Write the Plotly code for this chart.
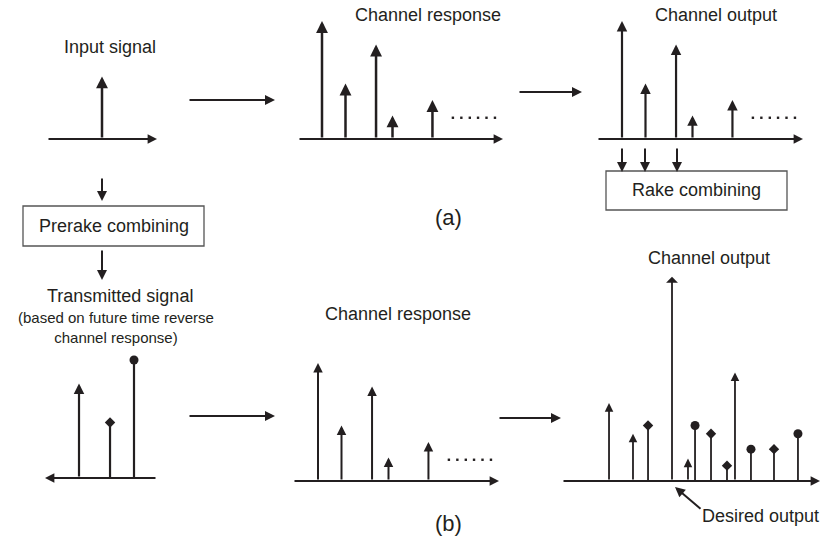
import plotly.graph_objects as go

W, H = 822, 540
INK = "#231f20"
FONT = "Liberation Sans, Arial, sans-serif"

# Scale of the stem plots: pixels per unit of delay and per unit of amplitude
PXD = 23.5
PXA = 118.0

# ---- data -----------------------------------------------------------------
# (a) input impulse
input_delay = [0.0]
input_amp = [0.53]
input_kind = ["arrow"]

# multipath channel response (same taps for the (a) output and both (b) plots)
resp_delay = [0.0, 1.0, 2.3, 3.0, 4.7]
resp_amp = [1.0, 0.47, 0.8, 0.2, 0.33]
resp_kind = ["arrow", "arrow", "arrow", "arrow", "arrow"]

# trailing "......" after the last tap
tail_delay = [5.57, 5.93, 6.29, 6.64, 7.0, 7.36]
tail_amp = [0.18, 0.18, 0.18, 0.18, 0.18, 0.18]

# (b) pre-rake transmitted signal
tx_delay = [-2.34, -1.02, 0.0]
tx_amp = [0.8, 0.47, 1.0]
tx_kind = ["arrow", "diamond", "circle"]

# (b) channel output after pre-rake combining
out_delay = [-2.68, -1.66, -1.02, 0.0, 0.68, 0.98, 1.66, 2.34, 2.68, 3.36, 4.34, 5.36]
out_amp = [0.66, 0.40, 0.47, 1.73, 0.19, 0.47, 0.40, 0.13, 0.92, 0.27, 0.27, 0.40]
out_kind = ["arrow", "arrow", "diamond", "arrow", "arrow", "circle",
            "diamond", "diamond", "arrow", "circle", "diamond", "circle"]

# ---- panel geometry (pixels): axis extent, baseline, zero-delay position ----
panels = [
    dict(left=47, right=157, base=139, origin=102, top=10),    # input
    dict(left=298, right=503, base=139, origin=322, top=10),   # (a) channel response
    dict(left=597, right=803, base=139, origin=622, top=10),   # (a) channel output
    dict(left=45, right=157, base=478, origin=134, top=250),   # (b) transmitted
    dict(left=293, right=499, base=481, origin=318, top=250),  # (b) channel response
    dict(left=562, right=820, base=481, origin=672, top=250),  # (b) channel output
]

fig = go.Figure()
layout = {}
annotations = []
shapes = []


def names(i):
    return ("x" if i == 1 else f"x{i}", "y" if i == 1 else f"y{i}")


for i, p in enumerate(panels, start=1):
    xn, yn = names(i)
    layout["xaxis" if i == 1 else f"xaxis{i}"] = dict(
        domain=[p["left"] / W, p["right"] / W],
        range=[(p["left"] - p["origin"]) / PXD, (p["right"] - p["origin"]) / PXD],
        visible=False, anchor=yn, fixedrange=True)
    layout["yaxis" if i == 1 else f"yaxis{i}"] = dict(
        domain=[1 - p["base"] / H, 1 - p["top"] / H],
        range=[0, (p["base"] - p["top"]) / PXA],
        visible=False, anchor=xn, fixedrange=True)

# full-page canvas in pixel units for labels, boxes and connecting arrows
CX, CY = "x7", "y7"
layout["xaxis7"] = dict(domain=[0, 1], range=[0, W], visible=False, anchor=CY, fixedrange=True)
layout["yaxis7"] = dict(domain=[0, 1], range=[H, 0], visible=False, anchor=CX, fixedrange=True)


def arrow(x0, y0, x1, y1, xr, yr, width=2.0, head=2, size=0.8):
    annotations.append(dict(
        x=x1, y=y1, ax=x0, ay=y0, xref=xr, yref=yr, axref=xr, ayref=yr,
        text="", showarrow=True, arrowhead=head, arrowsize=size,
        arrowwidth=width, arrowcolor=INK, standoff=0, startstandoff=0))


def time_axis(i, reverse=False):
    xn, yn = names(i)
    lo, hi = layout["xaxis" if i == 1 else f"xaxis{i}"]["range"]
    if reverse:
        lo, hi = hi, lo
    arrow(lo, 0, hi, 0, xn, yn, width=2.2, head=2, size=0.85)


def stems(i, delays, amps, kinds, width, msize):
    xn, yn = names(i)
    lx, ly = [], []
    for d, a, k in zip(delays, amps, kinds):
        if k == "arrow":
            big = a > 1.5
            arrow(d, 0, d, a, xn, yn, width=width,
                  head=1 if big else 2, size=1.1 if big else 0.95)
        else:
            lx += [d, d, None]
            ly += [0, a, None]
    if lx:
        fig.add_trace(go.Scatter(x=lx, y=ly, xaxis=xn, yaxis=yn, mode="lines",
                                 line=dict(color=INK, width=width), hoverinfo="skip"))
    for sym in ("circle", "diamond"):
        mx = [d for d, k in zip(delays, kinds) if k == sym]
        my = [a for a, k in zip(amps, kinds) if k == sym]
        if mx:
            fig.add_trace(go.Scatter(
                x=mx, y=my, xaxis=xn, yaxis=yn, mode="markers",
                marker=dict(symbol=sym, size=msize if sym == "circle" else msize - 1,
                            color=INK, line=dict(width=0)),
                hoverinfo="skip"))


def dots(i):
    xn, yn = names(i)
    fig.add_trace(go.Scatter(x=tail_delay, y=tail_amp, xaxis=xn, yaxis=yn, mode="markers",
                             marker=dict(symbol="square", size=2.4, color=INK),
                             hoverinfo="skip"))


# (a) row
time_axis(1)
stems(1, input_delay, input_amp, input_kind, 2.5, 8)
time_axis(2)
stems(2, resp_delay, resp_amp, resp_kind, 2.5, 8)
dots(2)
time_axis(3)
stems(3, resp_delay, resp_amp, resp_kind, 2.2, 8)
dots(3)

# (b) row
time_axis(4, reverse=True)
stems(4, tx_delay, tx_amp, tx_kind, 2.2, 9)
time_axis(5)
stems(5, resp_delay, resp_amp, resp_kind, 2.0, 8)
dots(5)
time_axis(6)
stems(6, out_delay, out_amp, out_kind, 1.8, 9)

# connecting arrows between the stages
for x0, y0, x1, y1 in [(188, 100, 275, 100), (518, 92, 582, 92),
                       (188, 416, 275, 416), (498, 418, 561, 418),
                       (102, 177, 102, 201), (102, 249, 102, 280),
                       (622, 147, 622, 172), (645, 147, 645, 172), (677, 147, 677, 172),
                       (702, 510, 675, 487)]:
    arrow(x0, y0, x1, y1, CX, CY, width=2.0, head=2, size=1.0)

# combining blocks
for x0, y0, x1, y1 in [(23, 206, 204, 246), (606, 171, 787, 210)]:
    shapes.append(dict(type="rect", xref=CX, yref=CY, x0=x0, y0=y0, x1=x1, y1=y1,
                       line=dict(color="#555555", width=1.3), fillcolor="rgba(0,0,0,0)"))

# labels
for txt, x, y, size in [
    ("Input signal", 110, 47, 18),
    ("Channel response", 428, 15, 18),
    ("Channel output", 716, 15, 18),
    ("Rake combining", 696, 190, 18),
    ("(a)", 448, 217, 22),
    ("Prerake combining", 114, 226, 18),
    ("Transmitted signal", 120, 296, 18),
    ("(based on future time reverse<br>channel response)", 116, 327, 15),
    ("Channel response", 398, 314, 18),
    ("Channel output", 709, 258, 18),
    ("Desired output", 760, 516, 18),
    ("(b)", 448, 523, 22),
]:
    annotations.append(dict(x=x, y=y, xref=CX, yref=CY, text=txt, showarrow=False,
                            xanchor="center", yanchor="middle", align="center",
                            font=dict(family=FONT, size=size, color=INK)))

fig.update_layout(
    width=W, height=H, margin=dict(l=0, r=0, t=0, b=0),
    paper_bgcolor="white", plot_bgcolor="rgba(0,0,0,0)", showlegend=False,
    annotations=annotations, shapes=shapes, **layout)

fig.write_html("out.html")
